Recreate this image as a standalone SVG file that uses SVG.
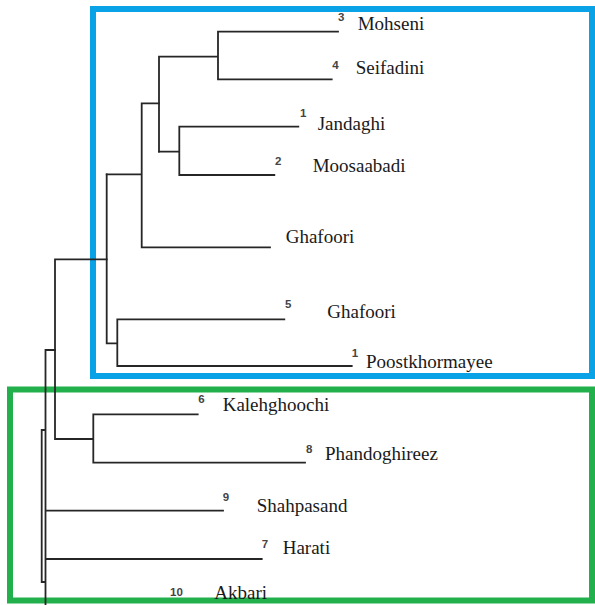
<svg xmlns="http://www.w3.org/2000/svg" width="595" height="605" viewBox="0 0 595 605">
<style>
.box{fill:none;stroke-width:6}
.blue{stroke:#09a2e6}
.green{stroke:#21b04b}
.ln{fill:none;stroke:#262626;stroke-width:1.8;stroke-linecap:square}
.name{font-size:19px;fill:#1a1a1a}
.num{font-size:11.5px;font-weight:bold;fill:#444444}
</style>
<rect width="595" height="605" fill="#ffffff"/>
<g id="clusters">
<rect id="cluster-blue" class="box blue" x="93" y="9" width="499" height="367"/>
<rect id="cluster-green" class="box green" x="10" y="389.5" width="582" height="211"/>
</g>
<g id="connectors">
<path class="ln" d="M218,31.7 H338 M218,79.3 H331.7 M218,31.7 V79.3 M159,56.7 H218 M159,56.7 V151.7"/>
<path class="ln" d="M179.3,126.7 H298.3 M179.3,175 H274.3 M179.3,126.7 V175 M159,151.7 H179.3"/>
<path class="ln" d="M141.7,103.3 H159 M141.7,103.3 V247.3 M141.7,247.3 H270 M106.7,174.3 H141.7"/>
<path class="ln" d="M106.7,174.3 V343.3 M106.7,343.3 H117.3 M117.3,319.3 V366 M117.3,319.3 H284.3 M117.3,366 H351.7"/>
<path class="ln" d="M55,259.3 H106.7 M55,259.3 V439 M55,439 H93.3 M93.3,414.3 V462.7 M93.3,414.3 H197.7 M93.3,462.7 H305"/>
<path class="ln" d="M45.5,350 H55 M45.5,350 V605 M45.5,510.7 H223 M45.5,559 H261.7 M45.5,430 H41.7 V582 H45.5"/>
</g>
<g font-family="'Liberation Serif', 'Times New Roman', serif">
<g id="n-mohseni"><text class="num" font-family="'Liberation Sans', Arial, sans-serif" x="338" y="21">3</text><text class="name" x="357.7" y="30">Mohseni</text></g>
<g id="n-seifadini"><text class="num" font-family="'Liberation Sans', Arial, sans-serif" x="332.3" y="69">4</text><text class="name" x="355.7" y="74">Seifadini</text></g>
<g id="n-jandaghi"><text class="num" font-family="'Liberation Sans', Arial, sans-serif" x="300" y="116.7">1</text><text class="name" x="317.7" y="130">Jandaghi</text></g>
<g id="n-moosaabadi"><text class="num" font-family="'Liberation Sans', Arial, sans-serif" x="275" y="165">2</text><text class="name" x="312.7" y="171.7">Moosaabadi</text></g>
<g id="n-ghafoori-a"><text class="name" x="285.7" y="243.3">Ghafoori</text></g>
<g id="n-ghafoori-b"><text class="num" font-family="'Liberation Sans', Arial, sans-serif" x="285" y="308.3">5</text><text class="name" x="327.3" y="318.3">Ghafoori</text></g>
<g id="n-poostkhormayee"><text class="num" font-family="'Liberation Sans', Arial, sans-serif" x="351.7" y="356.7">1</text><text class="name" x="366" y="368.3">Poostkhormayee</text></g>
<g id="n-kalehghoochi"><text class="num" font-family="'Liberation Sans', Arial, sans-serif" x="198.3" y="403.3">6</text><text class="name" x="222.7" y="410.7">Kalehghoochi</text></g>
<g id="n-phandoghireez"><text class="num" font-family="'Liberation Sans', Arial, sans-serif" x="306" y="452.7">8</text><text class="name" x="325" y="460">Phandoghireez</text></g>
<g id="n-shahpasand"><text class="num" font-family="'Liberation Sans', Arial, sans-serif" x="222.7" y="500.7">9</text><text class="name" x="256.7" y="511.7">Shahpasand</text></g>
<g id="n-harati"><text class="num" font-family="'Liberation Sans', Arial, sans-serif" x="261.7" y="547.7">7</text><text class="name" x="282.7" y="554">Harati</text></g>
<g id="n-akbari"><text class="num" font-family="'Liberation Sans', Arial, sans-serif" x="170" y="596">10</text><text class="name" x="214.3" y="599.3">Akbari</text></g>
</g>
</svg>
